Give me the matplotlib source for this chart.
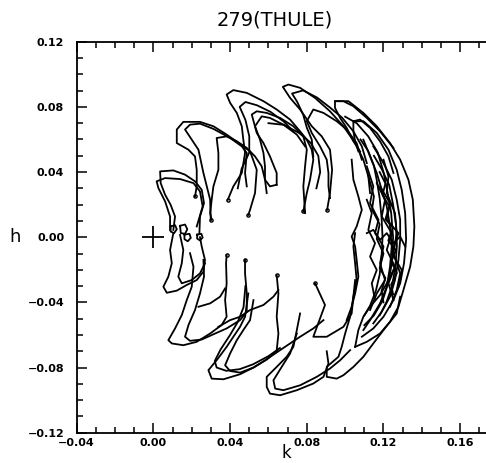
import matplotlib
matplotlib.use("Agg")
import matplotlib.pyplot as plt
from matplotlib.ticker import MultipleLocator, FuncFormatter

# traced (k, h) vertices of the trajectory
# upper fins
f1 = [(.0104, .0045), (.0113, .0127), (.0090, .0199), (.0061, .0261), (.0038, .0332), (.0035, .0404),
      (.0104, .0410), (.0165, .0384), (.0217, .0343), (.0252, .0291), (.0264, .0209), (.0243, .0127),
      (.0240, .0025)]
f1b = [(.0087, .0045), (.0087, .0127), (.0061, .0220), (.0026, .0302), (.0017, .0343), (.0061, .0363),
       (.0139, .0357), (.0209, .0332), (.0243, .0281), (.0257, .0189), (.0226, .0066)]
f2 = [(.0217, .0250), (.0226, .0312), (.0226, .0414), (.0217, .0496), (.0183, .0537), (.0122, .0578),
      (.0122, .0661), (.0156, .0708), (.0243, .0708), (.0313, .0681), (.0382, .0630), (.0469, .0558),
      (.0504, .0527), (.0539, .0414), (.0530, .0271), (.0504, .0168), (.0495, .0137)]
f2b = [(.0299, .0107), (.0296, .0230), (.0261, .0394), (.0235, .0537), (.0200, .0599), (.0165, .0661),
       (.0191, .0691), (.0243, .0697), (.0313, .0665), (.0400, .0609), (.0461, .0558), (.0487, .0517),
       (.0478, .0394), (.0487, .0312)]
f3 = [(.0388, .0230), (.0417, .0312), (.0461, .0394), (.0478, .0517), (.0469, .0599), (.0461, .0681),
      (.0435, .0763), (.0400, .0825), (.0382, .0876), (.0417, .0903), (.0487, .0886), (.0574, .0835),
      (.0643, .0784), (.0713, .0722), (.0765, .0650), (.0800, .0599), (.0826, .0537), (.0834, .0476),
      (.0817, .0353), (.0800, .0271), (.0782, .0158)]
f3b = [(.0440, .0300), (.0460, .0420), (.0500, .0520), (.0500, .0620), (.0480, .0720), (.0450, .0800),
       (.0480, .0830), (.0540, .0810), (.0610, .0770), (.0680, .0710), (.0730, .0650)]
f4 = [(.0304, .0107), (.0296, .0148), (.0304, .0230), (.0313, .0312), (.0339, .0414), (.0339, .0517),
      (.0330, .0609), (.0382, .0619), (.0435, .0589), (.0487, .0548), (.0530, .0496), (.0565, .0435),
      (.0582, .0353), (.0608, .0312), (.0643, .0322)]
f5 = [(.0643, .0322), (.0643, .0394), (.0608, .0496), (.0574, .0578), (.0539, .0640), (.0513, .0753),
      (.0539, .0773), (.0591, .0763), (.0661, .0732), (.0730, .0681), (.0782, .0619), (.0800, .0537),
      (.0791, .0435), (.0782, .0312), (.0791, .0148)]
f5b = [(.0591, .0271), (.0582, .0353), (.0582, .0435), (.0574, .0517), (.0556, .0599), (.0530, .0681),
       (.0565, .0742), (.0608, .0732), (.0678, .0691), (.0748, .0630), (.0791, .0558)]
f6 = [(.0921, .0240), (.0913, .0312), (.0913, .0394), (.0904, .0476), (.0869, .0558), (.0826, .0640),
      (.0800, .0712), (.0834, .0784), (.0887, .0763), (.0956, .0712), (.1008, .0661), (.1060, .0578),
      (.1087, .0476)]
f7 = [(.0906, .0168), (.0921, .0271), (.0932, .0414), (.0921, .0537), (.0878, .0619), (.0826, .0681),
      (.0765, .0784), (.0713, .0855), (.0675, .0923), (.0704, .0937), (.0765, .0917), (.0843, .0855),
      (.0921, .0773), (.0991, .0681), (.1052, .0578), (.1095, .0476), (.1121, .0373), (.1130, .0271)]
f7b = [(.0834, .0496), (.0826, .0599), (.0800, .0673), (.0781, .0753), (.0749, .0833), (.0723, .0882),
       (.0781, .0901), (.0854, .0857), (.0921, .0796), (.0984, .0734), (.1043, .0650), (.1087, .0558),
       (.1113, .0455)]
f8 = [(.1078, .0527), (.1043, .0589), (.1008, .0671), (.0974, .0732), (.0947, .0794), (.0947, .0835),
      (.0991, .0835), (.1043, .0804), (.1113, .0732), (.1182, .0650), (.1252, .0548)]
f9 = [(.1069, .0527), (.1052, .0589), (.1043, .0650), (.1043, .0712), (.1078, .0722), (.1130, .0671),
      (.1182, .0589), (.1226, .0496), (.1252, .0394)]
f10 = [(.0600, .0700), (.0680, .0690), (.0760, .0640), (.0820, .0580), (.0860, .0500), (.0870, .0400),
       (.0850, .0300)]

# right-hand crescent
o1 = [(.0947, .0835), (.1017, .0835), (.1095, .0763), (.1165, .0681), (.1234, .0578), (.1287, .0476),
      (.1330, .0353), (.1353, .0230), (.1361, .0066), (.1356, -.0057), (.1339, -.0181), (.1304, -.0324),
      (.1278, -.0427), (.1234, -.0519), (.1182, -.0591), (.1113, -.0642), (.1052, -.0673)]
o2 = [(.1043, .0712), (.1095, .0712), (.1165, .0640), (.1226, .0537), (.1269, .0414), (.1295, .0291),
      (.1313, .0148), (.1318, -.0016), (.1307, -.0160), (.1287, -.0283), (.1252, -.0386), (.1200, -.0488),
      (.1147, -.0560), (.1087, -.0611)]
c3 = [(.1095, .0599), (.1130, .0496), (.1165, .0394), (.1191, .0291), (.1217, .0189), (.1234, .0066),
      (.1243, -.0057), (.1234, -.0181), (.1217, -.0304), (.1182, -.0406), (.1130, -.0509), (.1095, -.0570)]
c4 = [(.1147, .0558), (.1200, .0455), (.1243, .0353), (.1269, .0230), (.1287, .0107), (.1287, -.0016),
      (.1278, -.0139), (.1260, -.0263), (.1234, -.0365), (.1191, -.0457), (.1147, -.0529)]
c5 = [(.1113, .0435), (.1147, .0312), (.1130, .0209), (.1174, .0107), (.1156, .0025), (.1200, -.0057),
      (.1182, -.0160), (.1208, -.0263), (.1165, -.0345), (.1130, -.0447)]
c6 = [(.1165, .0332), (.1208, .0230), (.1191, .0127), (.1243, .0025), (.1217, -.0078), (.1260, -.0181),
      (.1226, -.0283), (.1252, -.0386)]
c7 = [(.1200, .0476), (.1226, .0373), (.1217, .0271), (.1260, .0148), (.1269, .0025), (.1252, -.0098),
      (.1287, -.0222), (.1269, -.0324), (.1234, -.0427)]
c8 = [(.1034, .0476), (.1043, .0353), (.1069, .0250), (.1087, .0168), (.1060, .0066), (.1034, .0004),
      (.1052, -.0057), (.1060, -.0139), (.1069, -.0242), (.1052, -.0345), (.1034, -.0427), (.1008, -.0509)]
c9 = [(.1113, .0230), (.1139, .0148), (.1121, .0045), (.1156, -.0037), (.1130, -.0119), (.1165, -.0201),
      (.1139, -.0283), (.1156, -.0386)]
c10 = [(.1182, .0312), (.1234, .0209), (.1217, .0107), (.1278, .0025), (.1243, -.0098), (.1295, -.0201),
       (.1278, -.0304)]
c11 = [(.1113, .0025), (.1147, .0045), (.1182, -.0016), (.1217, .0025), (.1252, -.0037), (.1287, .0004),
       (.1313, -.0057)]
c12 = [(.1000, .0740), (.1060, .0700), (.1120, .0620), (.1170, .0520), (.1200, .0400), (.1220, .0280),
       (.1240, .0150), (.1250, .0000), (.1245, -.0150), (.1225, -.0280), (.1195, -.0390), (.1150, -.0480),
       (.1100, -.0540)]
c13 = [(.1080, .0600), (.1120, .0530), (.1150, .0440), (.1165, .0350), (.1180, .0240), (.1190, .0120),
       (.1195, .0000), (.1190, -.0120), (.1180, -.0230), (.1160, -.0330), (.1130, -.0420), (.1100, -.0480)]
c14 = [(.1150, .0500), (.1190, .0420), (.1230, .0320), (.1250, .0200), (.1265, .0080), (.1270, -.0050),
       (.1262, -.0180), (.1245, -.0300), (.1215, -.0400), (.1180, -.0480)]
c15 = [(.1180, .0400), (.1210, .0330), (.1195, .0260), (.1230, .0190), (.1210, .0110), (.1250, .0060),
       (.1225, -.0020), (.1265, -.0080), (.1240, -.0150), (.1270, -.0220), (.1240, -.0290), (.1250, -.0350)]
c16 = [(.1120, .0380), (.1150, .0250), (.1140, .0170), (.1180, .0080), (.1165, -.0010), (.1200, -.0100),
       (.1180, -.0190), (.1210, -.0250), (.1190, -.0330), (.1200, -.0400)]

# lower fins
b1 = [(.0104, .0025), (.0087, -.0078), (.0096, -.0160), (.0078, -.0242), (.0052, -.0304), (.0070, -.0341),
      (.0122, -.0328), (.0174, -.0293), (.0226, -.0263), (.0261, -.0211), (.0269, -.0139), (.0252, -.0057),
      (.0243, -.0000)]
b1b = [(.0139, .0014), (.0156, -.0078), (.0148, -.0160), (.0130, -.0242), (.0148, -.0283), (.0200, -.0263),
       (.0243, -.0222), (.0269, -.0160)]
b2 = [(.0191, -.0098), (.0209, -.0181), (.0200, -.0304), (.0174, -.0386), (.0148, -.0478), (.0113, -.0560),
      (.0078, -.0632), (.0096, -.0652), (.0156, -.0663), (.0226, -.0642), (.0296, -.0591), (.0356, -.0539),
      (.0382, -.0488), (.0374, -.0386), (.0382, -.0283), (.0379, -.0160), (.0382, -.0109)]
b2b = [(.0261, -.0139), (.0264, -.0242), (.0243, -.0345), (.0217, -.0447), (.0183, -.0539), (.0165, -.0611),
       (.0191, -.0636), (.0252, -.0628), (.0322, -.0591), (.0382, -.0560), (.0452, -.0509), (.0487, -.0457),
       (.0487, -.0345), (.0478, -.0222), (.0478, -.0139)]
b3 = [(.0495, -.0345), (.0478, -.0488), (.0452, -.0550), (.0417, -.0611), (.0382, -.0673), (.0330, -.0755),
      (.0287, -.0816), (.0304, -.0868), (.0365, -.0872), (.0452, -.0841), (.0522, -.0800), (.0591, -.0751),
      (.0643, -.0697), (.0652, -.0591), (.0643, -.0488), (.0652, -.0345), (.0643, -.0232)]
b3b = [(.0522, -.0386), (.0504, -.0509), (.0469, -.0570), (.0435, -.0632), (.0400, -.0714), (.0374, -.0786),
       (.0400, -.0821), (.0452, -.0831), (.0522, -.0800), (.0591, -.0749), (.0661, -.0693), (.0713, -.0652),
       (.0765, -.0611), (.0834, -.0560), (.0887, -.0509)]
b3c = [(.0480, -.0300), (.0470, -.0430), (.0440, -.0520), (.0400, -.0600), (.0350, -.0690), (.0320, -.0760),
       (.0330, -.0800), (.0380, -.0820), (.0450, -.0810), (.0520, -.0780), (.0600, -.0730), (.0660, -.0680)]
b4 = [(.0765, -.0468), (.0748, -.0570), (.0730, -.0673), (.0695, -.0734), (.0643, -.0796), (.0591, -.0857),
      (.0591, -.0919), (.0608, -.0960), (.0661, -.0970), (.0748, -.0939), (.0834, -.0898), (.0887, -.0857),
      (.0913, -.0775), (.0904, -.0700)]
b4b = [(.0748, -.0591), (.0713, -.0714), (.0669, -.0796), (.0626, -.0878), (.0635, -.0929), (.0678, -.0939),
       (.0765, -.0909), (.0852, -.0857), (.0921, -.0806), (.0974, -.0755), (.1026, -.0693)]
b5 = [(.1052, -.0263), (.1043, -.0365), (.1026, -.0488), (.1000, -.0591), (.0982, -.0673), (.0965, -.0734),
      (.0904, -.0796), (.0904, -.0857), (.0956, -.0868), (.0991, -.0847), (.1043, -.0796), (.1095, -.0734),
      (.1147, -.0652), (.1200, -.0570), (.1269, -.0468), (.1287, -.0365)]
b6 = [(.0843, -.0283), (.0895, -.0416), (.0834, -.0611), (.0904, -.0611), (.0991, -.0550), (.1034, -.0468),
      (.1043, -.0365), (.1060, -.0263), (.1052, -.0160), (.1043, -.0057), (.1052, .0025)]
b7 = [(.1052, -.0673), (.1069, -.0570), (.1095, -.0488), (.1130, -.0427), (.1182, -.0355), (.1217, -.0283),
      (.1252, -.0201)]
l1 = [(.0235, -.0427), (.0296, -.0406), (.0348, -.0365), (.0374, -.0314)]
l2 = [(.0339, -.0550), (.0400, -.0509), (.0452, -.0488), (.0504, -.0447), (.0574, -.0416), (.0626, -.0365),
      (.0652, -.0324)]

# little loops near h = 0
loop1 = [(.0090, .0066), (.0113, .0074), (.0122, .0049), (.0108, .0025), (.0090, .0035), (.0090, .0066)]
loop2 = [(.0139, .0070), (.0165, .0078), (.0177, .0049), (.0165, .0021), (.0143, .0025), (.0139, .0070)]
loop3 = [(.0162, .0016), (.0188, .0021), (.0195, -.0004), (.0179, -.0025), (.0162, -.0012), (.0162, .0016)]
loop4 = [(.0229, .0016), (.0250, .0021), (.0257, -.0002), (.0243, -.0020), (.0228, -.0008), (.0229, .0016)]

# small droplets at the finger tips
tips_k = [.0217, .0299, .0388, .0495, .0782, .0906, .0382, .0478, .0643, .0843]
tips_h = [.0250, .0107, .0230, .0137, .0158, .0168, -.0109, -.0139, -.0232, -.0283]

paths = [f1, f1b, f2, f2b, f3, f3b, f4, f5, f5b, f6, f7, f7b, f8, f9, f10,
         o1, o2, c3, c4, c5, c6, c7, c8, c9, c10, c11, c12, c13, c14, c15, c16,
         b1, b1b, b2, b2b, b3, b3b, b3c, b4, b4b, b5, b6, b7, l1, l2,
         loop1, loop2, loop3, loop4]

fig = plt.figure(figsize=(4.86, 4.63), dpi=100)
# right spine (k = 0.18) falls just outside the picture, as in the scan
ax = fig.add_axes([0.1578, 0.0654, 0.868, 0.8445])

for p in paths:
    k, h = zip(*p)
    ax.plot(k, h, color='black', lw=1.3, solid_joinstyle='round')

ax.plot(tips_k, tips_h, ls='none', marker='o', ms=2.3, mfc='none', mec='black', mew=1.0)
ax.plot([0.0], [0.0], marker='+', ms=16, mew=1.3, color='black')

ax.set_xlim(-0.04, 0.18)
ax.set_ylim(-0.12, 0.12)
ax.xaxis.set_major_locator(MultipleLocator(0.04))
ax.xaxis.set_minor_locator(MultipleLocator(0.01))
ax.yaxis.set_major_locator(MultipleLocator(0.04))
ax.yaxis.set_minor_locator(MultipleLocator(0.01))

fmt = FuncFormatter(lambda v, pos: ('%.2f' % v).replace('-', '\u2212'))
ax.xaxis.set_major_formatter(fmt)
ax.yaxis.set_major_formatter(fmt)

for s in ax.spines.values():
    s.set_linewidth(1.3)
ax.tick_params(which='both', direction='in', top=True, right=True, width=1.1)
ax.tick_params(which='major', length=7)
ax.tick_params(which='minor', length=4)
ax.tick_params(axis='x', pad=4)
ax.tick_params(axis='y', pad=9)
for lab in ax.get_xticklabels() + ax.get_yticklabels():
    lab.set_fontsize(8)
    lab.set_fontweight('bold')

fig.text(275 / 486, 1 - 20 / 463, '279(THULE)', ha='center', va='center', fontsize=14)
fig.text(15 / 486, 1 - 237 / 463, 'h', ha='center', va='center', fontsize=13)
fig.text(286 / 486, 1 / 463, 'k', ha='center', va='bottom', fontsize=12)

fig.savefig('out.png', dpi=100)
